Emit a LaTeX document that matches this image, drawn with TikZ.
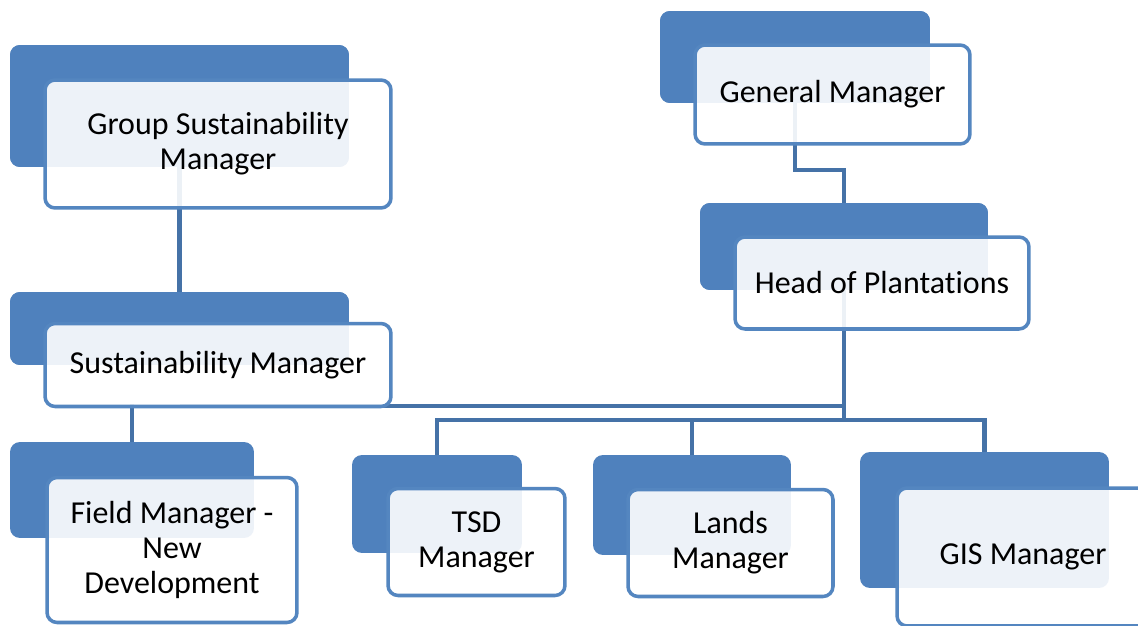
\documentclass[tikz,border=0pt]{standalone}
\usepackage{fontspec}
\setmainfont{Carlito}[Ligatures=NoCommon]

\definecolor{backblue}{RGB}{79,129,189}
\definecolor{edgeblue}{RGB}{84,134,192}
\definecolor{linkblue}{RGB}{69,114,167}

\tikzset{
  back/.style={rectangle, rounded corners=0.2cm, fill=backblue, inner sep=0pt},
  front/.style={rectangle, rounded corners=0.2cm, draw=edgeblue, line width=2pt,
    fill=white, fill opacity=0.9, text opacity=1, align=center, inner sep=2pt,
    font=\fontsize{18.2}{19.8}\selectfont},
  link/.style={draw=linkblue, line width=2.3pt}
}

\begin{document}
\begin{tikzpicture}[x=0.02cm, y=-0.02cm]
  \useasboundingbox (0,0) rectangle (1138,625);
  \clip (0,0) rectangle (1138,625);
  \fill[white] (0,0) rectangle (1138,625);

  % dark back plates
  \node[back, minimum width=6.78cm, minimum height=2.44cm] (gsmback) at (179.5,106) {};
  \node[back, minimum width=5.4cm,  minimum height=1.84cm] (gmback) at (795,57) {};
  \node[back, minimum width=5.76cm, minimum height=1.74cm] (hopback) at (844,246.5) {};
  \node[back, minimum width=6.78cm, minimum height=1.46cm] (smback) at (179.5,328.5) {};
  \node[back, minimum width=4.88cm, minimum height=1.92cm] (fmback) at (132,490) {};
  \node[back, minimum width=3.4cm,  minimum height=1.96cm] (tsdback) at (437,504) {};
  \node[back, minimum width=3.96cm, minimum height=2.0cm]  (landsback) at (692,505) {};
  \node[back, minimum width=4.98cm, minimum height=2.72cm] (gisback) at (984.5,520) {};
  \coordinate (bus) at (844,420);

  % connectors
  \draw[link] (gsmback.center) -- (smback.north);   % group -> sustainability
  \draw[link] (gmback.center) -- (795,170) -| (hopback.north);   % general -> head
  \draw[link] (hopback.center) |- (smback.center |- 0,406);   % head -> sustainability
  \draw[link] (hopback.center) -- (bus);
  \draw[link] (tsdback.north) |- (bus) -| (gisback.north);   % bus to tsd and gis
  \draw[link] (landsback.north) -- (landsback.north |- bus);
  \draw[link] (fmback.north) -- (fmback.north |- 0,404);   % sustainability -> field

  % plates again on top of the links
  \node[back, minimum width=6.78cm, minimum height=2.44cm] at (gsmback) {};
  \node[back, minimum width=5.4cm,  minimum height=1.84cm] at (gmback) {};
  \node[back, minimum width=5.76cm, minimum height=1.74cm] at (hopback) {};
  \node[back, minimum width=6.78cm, minimum height=1.46cm] at (smback) {};

  % light front boxes with the titles
  \node[front, minimum width=6.92cm, minimum height=2.56cm] (gsm) at (218,144) {Group Sustainability\\Manager};
  \node[front, minimum width=5.5cm,  minimum height=1.98cm] (gm) at (832.5,94.5) {General Manager};
  \node[front, minimum width=5.88cm, minimum height=1.84cm] (hop) at (882,283) {Head of Plantations};
  \node[front, minimum width=6.92cm, minimum height=1.66cm] (sm) at (218,365) {Sustainability Manager};
  \node[front, minimum width=5.0cm,  minimum height=2.9cm]  (fm) at (172,550) {Field Manager -\\New\\Development};
  \node[front, minimum width=3.54cm, minimum height=2.14cm] (tsd) at (476.5,542) {TSD\\Manager};
  \node[front, minimum width=4.1cm,  minimum height=2.14cm] (lands) at (730.5,543) {Lands\\Manager};
  \node[front, minimum width=6.0cm,  minimum height=2.76cm] (gis) at (1047,557) {GIS Manager\hspace*{0.96cm}};
\end{tikzpicture}
\end{document}
